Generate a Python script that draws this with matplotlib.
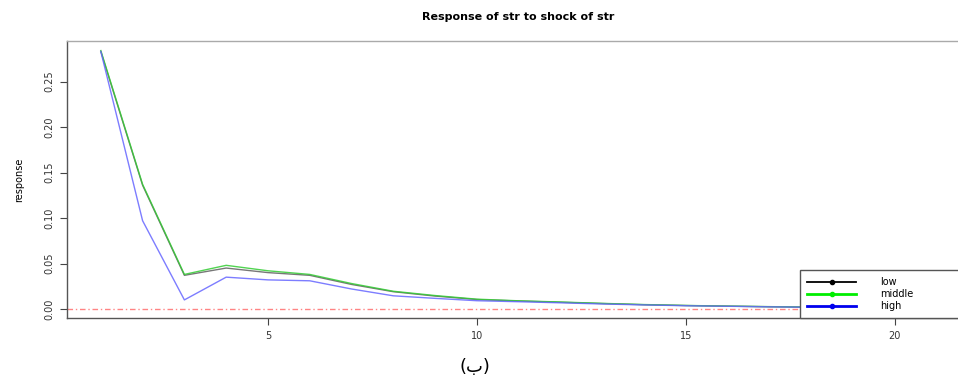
import matplotlib.pyplot as plt
import numpy as np
from matplotlib.lines import Line2D

# horizons and impulse responses
horizon = list(range(1, 22))
low = [0.283, 0.136, 0.037, 0.045, 0.040, 0.037, 0.027, 0.019, 0.0142, 0.0104,
       0.0088, 0.0074, 0.0060, 0.0047, 0.0038, 0.0031, 0.0025, 0.0020, 0.0016, 0.0013, 0.0010]
middle = [0.284, 0.137, 0.038, 0.048, 0.042, 0.038, 0.028, 0.0195, 0.0148, 0.0108,
          0.0090, 0.0077, 0.0062, 0.0049, 0.0039, 0.0032, 0.0026, 0.0021, 0.0017, 0.0014, 0.0011]
high = [0.283, 0.097, 0.010, 0.035, 0.032, 0.031, 0.022, 0.0145, 0.0117, 0.0091,
        0.0080, 0.0068, 0.0055, 0.0045, 0.0036, 0.0030, 0.0024, 0.0019, 0.0015, 0.0012, 0.0010]
yticks = [0.00, 0.05, 0.10, 0.15, 0.20, 0.25]
xticks = [5, 10, 15, 20]

fig = plt.figure(figsize=(9.58, 3.78), dpi=100)
ax = fig.add_axes([0.0699, 0.1587, 0.9426, 0.7328])

ax.plot(horizon, low, color='#555555', lw=1.0, alpha=0.8, label='low')
ax.plot(horizon, middle, color='#33cc33', lw=1.0, alpha=0.85, label='middle')
ax.plot(horizon, high, color='#6666ff', lw=1.0, alpha=0.85, label='high')
ax.axhline(0, color='#ff3333', lw=1.0, ls=(0, (4, 2, 1, 2)), alpha=0.6)

ax.set_xlim(0.19, 21.8)
ax.set_ylim(-0.0099, 0.2945)
ax.set_xticks(xticks)
ax.set_yticks(yticks)
ax.set_yticklabels(['%.2f' % v for v in yticks], rotation=90, va='center')
ax.tick_params(direction='out', length=5, width=0.8, colors='#444444',
               labelsize=7, labelcolor='#333333', pad=4)

for s in ax.spines.values():
    s.set_color('#555555')
    s.set_linewidth(1.0)
ax.spines['top'].set_color('#aaaaaa')

ax.set_ylabel('response', fontsize=7, labelpad=15)
ax.set_title('Response of str to shock of str', fontsize=8, fontweight='bold', pad=15)

# legend handles: line with a dot in the middle
handles = [
    Line2D([0, 1, 2], [0, 0, 0], color='black', lw=1.3, marker='o', markersize=3, markevery=[1]),
    Line2D([0, 1, 2], [0, 0, 0], color='#00ee00', lw=2.0, marker='o', markersize=3, markevery=[1]),
    Line2D([0, 1, 2], [0, 0, 0], color='#0000ee', lw=2.0, marker='o', markersize=3, markevery=[1]),
]
leg = ax.legend(handles, ['low', 'middle', 'high'], loc='lower left',
                bbox_to_anchor=(0.8117, 0.0, 0.2, 0.16), mode='expand',
                borderaxespad=0, fontsize=7, handlelength=5.1, handletextpad=2.4,
                labelspacing=0.22, fancybox=False, framealpha=1,
                borderpad=0.7)
leg.get_frame().set_edgecolor('#555555')
leg.get_frame().set_linewidth(1.0)

fig.text(0.496, 0.03, '(ب)', fontsize=13, ha='center', va='center')

fig.savefig('out.png', dpi=100)
